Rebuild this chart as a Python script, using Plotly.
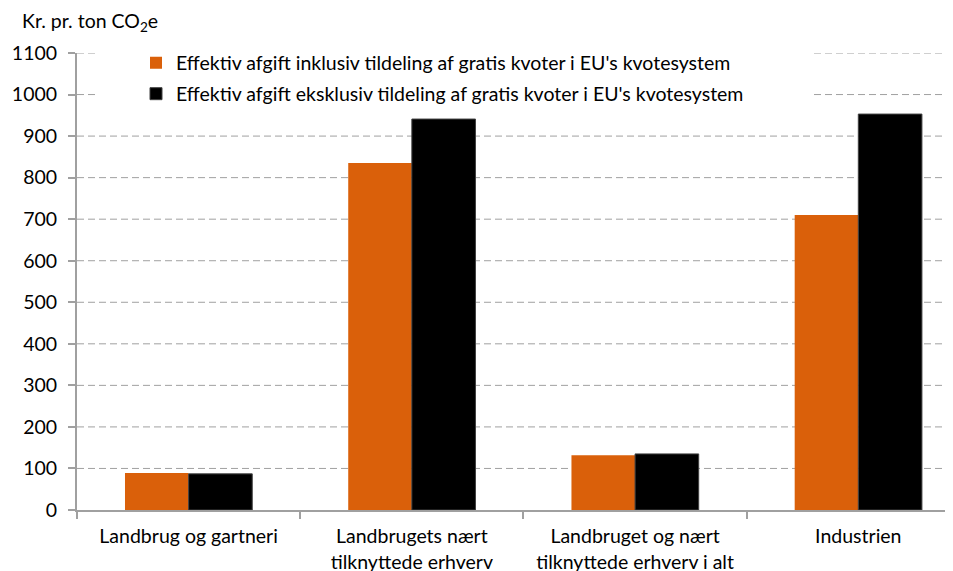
import plotly.graph_objects as go

categories = ["Landbrug og gartneri", "Landbrugets nært<br>tilknyttede erhverv",
              "Landbruget og nært<br>tilknyttede erhverv i alt", "Industrien"]
series_names = ["Effektiv afgift inklusiv tildeling af gratis kvoter i EU's kvotesystem",
                "Effektiv afgift eksklusiv tildeling af gratis kvoter i EU's kvotesystem"]
incl_values = [89, 835, 132, 710]
excl_values = [87, 941, 135, 953]
y_ticks = [0, 100, 200, 300, 400, 500, 600, 700, 800, 900, 1000, 1100]

FONT = "Lato"
FS = 19.5
OX, OY = 4, 8
L, T = 73 - OX, 53 - OY
PLOT_H = 510 - 53
B = 571 - (510 - OY)
PLOT_W = 953 - L

fig = go.Figure()
fig.add_trace(go.Bar(x=categories, y=incl_values, name=series_names[0], legend="legend",
                     marker=dict(color="#DA600A", line=dict(width=0))))
fig.add_trace(go.Bar(x=categories, y=excl_values, name=series_names[1], legend="legend2",
                     marker=dict(color="#000000", line=dict(color="#404040", width=1))))

def px_x(x):
    return (x - OX - L) / PLOT_W

def px_y(y):
    return (510 - y) / PLOT_H

# dashed gridlines (drawn as shapes so the legend area can mask them)
shapes = [dict(type="line", xref="paper", yref="y", layer="below",
               x0=0, x1=1, y0=v, y1=v,
               line=dict(color="#A0A0A0", width=1, dash="7px,4px"))
          for v in y_ticks[1:]]
shapes.append(dict(type="rect", xref="paper", yref="paper", layer="below",
                   x0=px_x(93), x1=px_x(806), y0=px_y(110), y1=px_y(40),
                   fillcolor="white", line=dict(width=0)))

leg_common = dict(xanchor="left", yanchor="middle", bgcolor="rgba(255,255,255,0)",
                  font=dict(size=FS, family=FONT), itemwidth=30, borderwidth=0)

fig.update_layout(
    width=953, height=571,
    margin=dict(l=L, r=0, t=T, b=B),
    paper_bgcolor="white", plot_bgcolor="white",
    barmode="group", bargap=0.43, bargroupgap=0,
    font=dict(family=FONT, size=FS, color="#000000"),
    showlegend=True,
    legend=dict(x=px_x(132), y=px_y(63), **leg_common),
    legend2=dict(x=px_x(132), y=px_y(94), **leg_common),
    annotations=[dict(text="Kr. pr. ton CO<sub>2</sub>e", xref="paper", yref="paper",
                      x=px_x(16), y=px_y(22), xanchor="left", yanchor="middle",
                      showarrow=False, font=dict(size=FS, family=FONT))],
    shapes=shapes,
)
fig.update_xaxes(range=[-0.5, 3.46], showline=True, linecolor="#A0A0A0", linewidth=2,
                 ticks="outside", tickson="boundaries", ticklen=7, tickcolor="#A0A0A0",
                 tickwidth=2, showgrid=False, automargin=False, ticklabelstandoff=8,
                 tickfont=dict(size=FS, family=FONT))
fig.update_yaxes(range=[0, 1100], tickvals=y_ticks, showline=True, linecolor="#A0A0A0",
                 linewidth=2, ticks="outside", ticklen=7, tickcolor="#A0A0A0", tickwidth=2,
                 showgrid=False, zeroline=False, automargin=False, ticklabelstandoff=7,
                 tickfont=dict(size=FS, family=FONT))

fig.write_html("out.html")
